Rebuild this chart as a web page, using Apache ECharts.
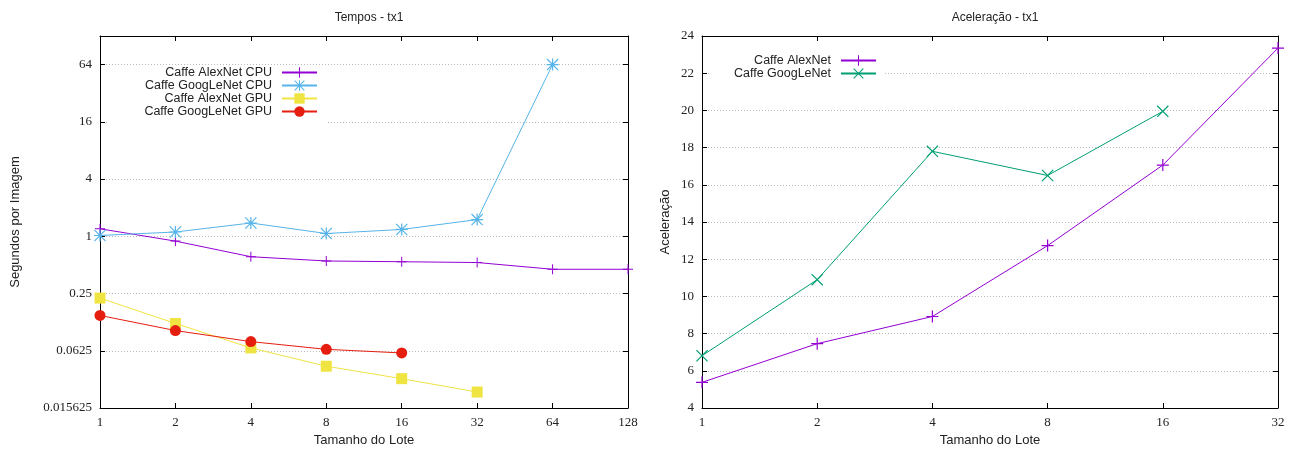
<!DOCTYPE html>
<html>
<head>
<meta charset="utf-8">
<script src="https://cdn.jsdelivr.net/npm/echarts@6/dist/echarts.min.js"></script>
<style>
  html, body { margin: 0; padding: 0; background: #fff; }
  #chart { width: 1293px; height: 450px; }
</style>
</head>
<body>
<div id="chart"></div>
<script>
// batch sizes (Tamanho do Lote)
const loteTempos = [1, 2, 4, 8, 16, 32, 64, 128];
const loteAcel = [1, 2, 4, 8, 16, 32];

// seconds per image
const alexCpu = [1.2, 0.89, 0.61, 0.55, 0.54, 0.53, 0.45, 0.45];
const googCpu = [1.02, 1.11, 1.38, 1.07, 1.18, 1.5, 64];
const alexGpu = [0.224, 0.121, 0.067, 0.043, 0.0318, 0.023];
const googGpu = [0.147, 0.102, 0.078, 0.0647, 0.0593];

// speedup
const acelAlex = [5.38, 7.46, 8.92, 12.73, 17.06, 23.35];
const acelGoog = [6.81, 10.9, 17.8, 16.5, 19.95];

const PLUS = 'path://M0,9H20V11H0Z M9,0H11V20H9Z';
const CROSS = 'path://M0,1.4L1.4,0L20,18.6L18.6,20Z M18.6,0L20,1.4L1.4,20L0,18.6Z';
const STAR = 'path://M0,9H20V11H0Z M9,0H11V20H9Z M0,1.4L1.4,0L20,18.6L18.6,20Z M18.6,0L20,1.4L1.4,20L0,18.6Z';

const pairs = (xs, ys) => ys.map((v, i) => [xs[i], v]);
const fmt = v => String(+(+v).toPrecision(6));

const tickFont = { fontFamily: 'Liberation Serif', fontSize: 13, color: '#222' };
const nameFont = { fontFamily: 'Liberation Sans', fontSize: 13, color: '#222' };

function xAxes(grid, max) {
  const base = {
    type: 'log', logBase: 2, min: 1, max: max, gridIndex: grid,
    axisLine: { show: true, onZero: false, lineStyle: { color: '#000', width: 1 } },
    axisTick: { inside: true, length: 5, lineStyle: { color: '#000' } },
    splitLine: { show: false }
  };
  return [
    Object.assign({}, base, {
      position: 'bottom',
      name: 'Tamanho do Lote', nameLocation: 'middle', nameGap: 26, nameTextStyle: nameFont,
      axisLabel: Object.assign({ margin: 8, formatter: fmt }, tickFont)
    }),
    Object.assign({}, base, { position: 'top', axisLabel: { show: false } })
  ];
}

function yAxes(grid, extra, name, nameGap) {
  const base = Object.assign({
    gridIndex: grid,
    axisLine: { show: true, onZero: false, lineStyle: { color: '#000', width: 1 } },
    axisTick: { inside: true, length: 5, lineStyle: { color: '#000' } }
  }, extra);
  return [
    Object.assign({}, base, {
      position: 'left',
      name: name, nameLocation: 'middle', nameGap: nameGap, nameTextStyle: nameFont,
      axisLabel: Object.assign({ margin: 8, formatter: fmt, showMaxLabel: extra.type !== 'log' }, tickFont),
      splitLine: { show: true, lineStyle: { color: '#bbb', type: [1, 2], width: 1 } }
    }),
    Object.assign({}, base, { position: 'right', axisLabel: { show: false }, splitLine: { show: false } })
  ];
}

function lineSeries(name, data, color, symbol, size, xi, yi) {
  return {
    name: name, type: 'line', data: data,
    xAxisIndex: xi, yAxisIndex: yi,
    symbol: symbol, symbolSize: size, showSymbol: true,
    lineStyle: { color: color, width: 1 },
    itemStyle: { color: color },
    emphasis: { disabled: true }
  };
}

const legendText = { fontFamily: 'Liberation Sans', fontSize: 12.5, color: '#222', lineHeight: 13, padding: [0, 5, 0, 0] };

const chart = echarts.init(document.getElementById('chart'));
chart.setOption({
  animation: false,
  backgroundColor: '#fff',
  title: [
    { text: 'Tempos - tx1', left: 364, top: 7, textAlign: 'center',
      textStyle: { fontFamily: 'Liberation Sans', fontSize: 12, fontWeight: 'normal', color: '#222' } },
    { text: 'Aceleração - tx1', left: 990, top: 7, textAlign: 'center',
      textStyle: { fontFamily: 'Liberation Sans', fontSize: 12, fontWeight: 'normal', color: '#222' } }
  ],
  legend: [
    {
      data: ['Caffe AlexNet CPU', 'Caffe GoogLeNet CPU', 'Caffe AlexNet GPU', 'Caffe GoogLeNet GPU'],
      orient: 'vertical', align: 'right', right: 966, top: 66,
      padding: [0, 9, 6, 36], itemGap: 0, itemWidth: 35, itemHeight: 13,
      backgroundColor: '#fff', textStyle: legendText
    },
    {
      data: ['Caffe AlexNet', 'Caffe GoogLeNet'],
      orient: 'vertical', align: 'right', right: 408, top: 52,
      padding: [2, 8, 4, 25], itemGap: 0, itemWidth: 35, itemHeight: 13,
      backgroundColor: '#fff', textStyle: legendText
    }
  ],
  grid: [
    { left: 100, right: 665, top: 36, bottom: 42, show: false, outerBoundsMode: 'none', containLabel: false },
    { left: 702, right: 15, top: 36, bottom: 42, show: false, outerBoundsMode: 'none', containLabel: false }
  ],
  xAxis: xAxes(0, 128).concat(xAxes(1, 32)),
  yAxis: yAxes(0, { type: 'log', logBase: 4, min: 1 / 64, max: 128 }, 'Segundos por Imagem', 78)
    .concat(yAxes(1, { type: 'value', min: 4, max: 24, interval: 2 }, 'Aceleração', 30)),
  series: [
    lineSeries('Caffe AlexNet CPU', pairs(loteTempos, alexCpu), '#9400d3', PLUS, 10, 0, 0),
    lineSeries('Caffe GoogLeNet CPU', pairs(loteTempos, googCpu), '#56b4e9', STAR, 12, 0, 0),
    lineSeries('Caffe AlexNet GPU', pairs(loteTempos, alexGpu), '#f0e442', 'rect', 11, 0, 0),
    lineSeries('Caffe GoogLeNet GPU', pairs(loteTempos, googGpu), '#e51e10', 'circle', 11, 0, 0),
    lineSeries('Caffe AlexNet', pairs(loteAcel, acelAlex), '#9400d3', PLUS, 12, 2, 2),
    lineSeries('Caffe GoogLeNet', pairs(loteAcel, acelGoog), '#009e73', CROSS, 12, 2, 2)
  ]
});
</script>
</body>
</html>
